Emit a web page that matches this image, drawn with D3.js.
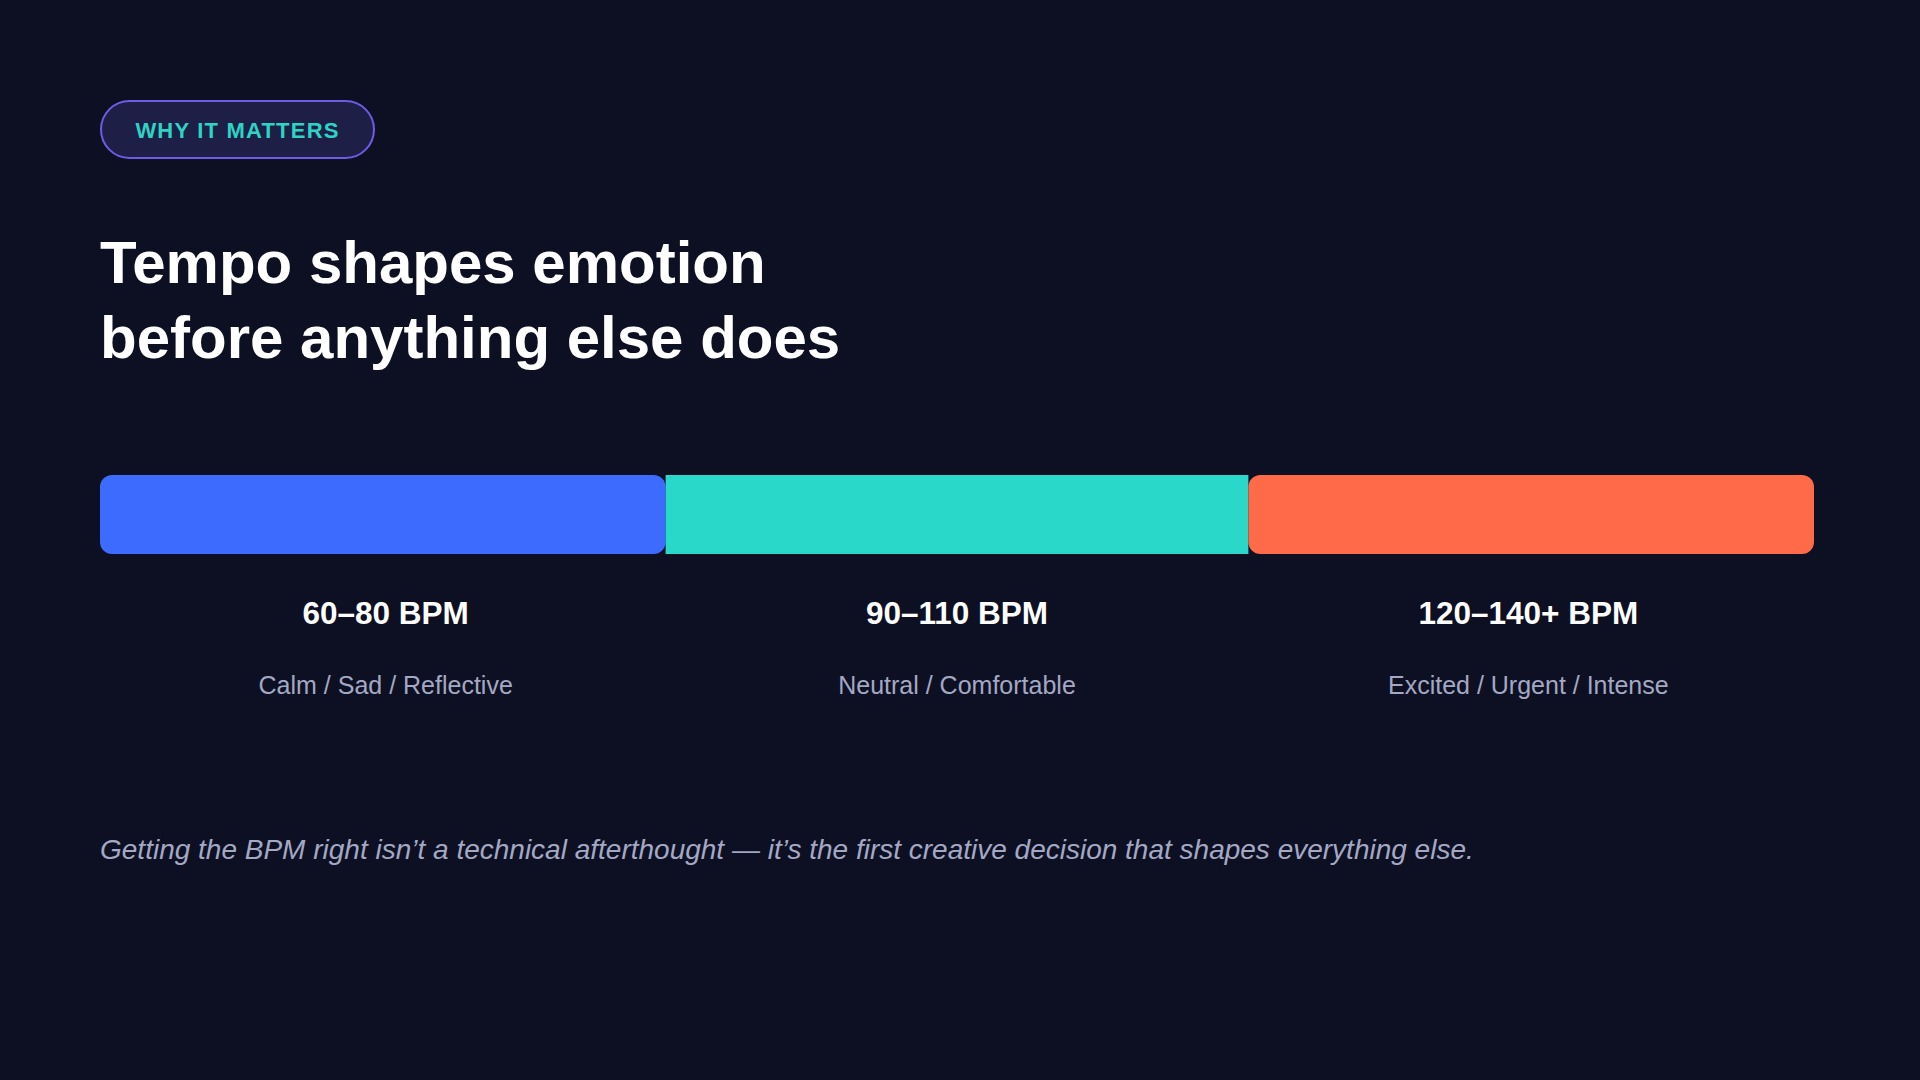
<!DOCTYPE html>
<html>
<head>
<meta charset="utf-8">
<script src="https://cdn.jsdelivr.net/npm/d3@7"></script>
<style>
  html, body { margin: 0; padding: 0; background: #0d1022; }
  svg { display: block; font-family: "Liberation Sans", Arial, sans-serif; }
</style>
</head>
<body>
<svg width="1920" height="1080"></svg>
<script>
// tempo bands, left to right
var bands = ["slow", "mid", "fast"];
var bandShare = [0.33, 0.34, 0.33];
var bandRanges = ["60–80 BPM", "90–110 BPM", "120–140+ BPM"];
var bandMoods = ["Calm / Sad / Reflective", "Neutral / Comfortable", "Excited / Urgent / Intense"];
var bandColors = ["#3d6bfe", "#29d8c9", "#ff6a48"];

var eyebrow = "WHY IT MATTERS";
var titleLines = ["Tempo shapes emotion", "before anything else does"];
var footnote = "Getting the BPM right isn’t a technical afterthought — it’s the first creative decision that shapes everything else.";

var svg = d3.select("svg");

var margin = { "left": 100, "right": 106 };
var width = 1920 - margin.left - margin.right;

// pill label
var pill = svg.append("g").attr("transform", "translate(" + margin.left + ",100)");
pill.append("rect")
  .attr("x", 1)
  .attr("y", 1)
  .attr("width", 273)
  .attr("height", 57)
  .attr("rx", 28.5)
  .attr("fill", "#1d1f47")
  .attr("stroke", "#6f5ce6")
  .attr("stroke-width", 2);
pill.append("text")
  .attr("x", 137.5)
  .attr("y", 38)
  .attr("text-anchor", "middle")
  .attr("fill", "#2dd4c4")
  .attr("font-size", "22px")
  .attr("font-weight", "bold")
  .attr("letter-spacing", "1.2px")
  .text(eyebrow);

// headline
svg.append("g")
  .selectAll("text")
  .data(titleLines)
  .enter()
  .append("text")
  .attr("x", margin.left)
  .attr("y", function(d, i) { return 283 + i * 75; })
  .attr("fill", "#ffffff")
  .attr("font-size", "60px")
  .attr("font-weight", "bold")
  .text(function(d) { return d; });

// cumulative position of each band along the spectrum
var starts = [];
var acc = 0;
bandShare.forEach(function(s) { starts.push(acc); acc += s; });

var x = d3.scaleLinear().domain([0, 1]).range([margin.left, margin.left + width]);
// captions sit in equal columns under the bar
var col = d3.scaleBand().domain(bands).range([margin.left, margin.left + width]);

var barTop = 475;
var barHeight = 79;

var seg = svg.append("g")
  .selectAll("g")
  .data(bands)
  .enter()
  .append("g");

seg.append("rect")
  .attr("x", function(d, i) { return x(starts[i]); })
  .attr("y", barTop)
  .attr("width", function(d, i) { return x(starts[i] + bandShare[i]) - x(starts[i]); })
  .attr("height", barHeight)
  .attr("rx", function(d, i) { return i == 1 ? 0 : 12; })
  .attr("fill", function(d, i) { return bandColors[i]; });

seg.append("text")
  .attr("x", function(d) { return col(d) + col.bandwidth() / 2; })
  .attr("y", 624)
  .attr("text-anchor", "middle")
  .attr("fill", "#ffffff")
  .attr("font-size", "31.5px")
  .attr("font-weight", "bold")
  .text(function(d, i) { return bandRanges[i]; });

seg.append("text")
  .attr("x", function(d) { return col(d) + col.bandwidth() / 2; })
  .attr("y", 694)
  .attr("text-anchor", "middle")
  .attr("fill", "#a4a8c4")
  .attr("font-size", "25px")
  .text(function(d, i) { return bandMoods[i]; });

// closing line
svg.append("text")
  .attr("x", margin.left)
  .attr("y", 859)
  .attr("fill", "#a4a8c4")
  .attr("font-size", "28px")
  .attr("font-style", "italic")
  .text(footnote);
</script>
</body>
</html>
